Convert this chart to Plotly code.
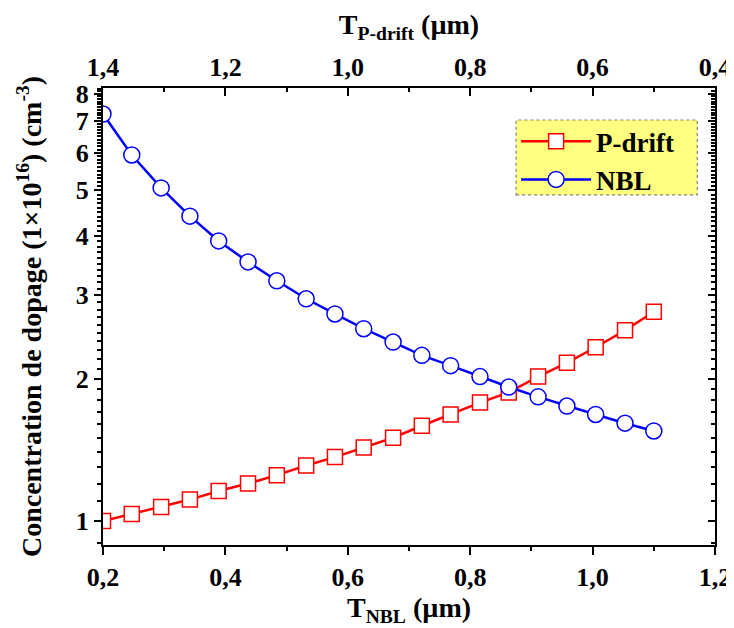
import plotly.graph_objects as go
import numpy as np

# Data
t_nbl = [0.2, 0.247, 0.295, 0.342, 0.389, 0.437, 0.484, 0.532, 0.579, 0.626,
         0.674, 0.721, 0.768, 0.816, 0.863, 0.911, 0.958, 1.005, 1.053, 1.1]
p_drift = [1.00, 1.035, 1.07, 1.11, 1.157, 1.20, 1.25, 1.31, 1.365, 1.43,
           1.50, 1.59, 1.68, 1.78, 1.87, 2.02, 2.16, 2.33, 2.53, 2.77]
nbl = [7.25, 5.94, 5.06, 4.41, 3.91, 3.53, 3.22, 2.95, 2.74, 2.55,
       2.39, 2.24, 2.13, 2.02, 1.92, 1.83, 1.75, 1.68, 1.61, 1.55]

x_ticks = [0.2, 0.4, 0.6, 0.8, 1.0, 1.2]
x_top_ticks = [1.4, 1.2, 1.0, 0.8, 0.6, 0.4]
y_ticks = [1, 2, 3, 4, 5, 6, 7, 8]
y_minor = [round(v, 1) for v in np.arange(0.9, 8.25, 0.1) if abs(v - round(v)) > 1e-6]

FONT = "Liberation Serif"
tickfont = dict(family=FONT, size=26, color="black", weight="bold")
titlefont = dict(family=FONT, size=28, color="black", weight="bold")
ylog_range = [-0.0507, 0.9154]

fig = go.Figure()
fig.add_trace(go.Scatter(
    x=t_nbl, y=p_drift, name="P-drift", mode="lines+markers",
    line=dict(color="#FF0000", width=2.5),
    marker=dict(symbol="square", size=15, color="white",
                line=dict(color="#FF0000", width=1.5)),
))
fig.add_trace(go.Scatter(
    x=t_nbl, y=nbl, name="NBL", mode="lines+markers",
    line=dict(color="#0000FF", width=2.5),
    marker=dict(symbol="circle", size=16, color="white",
                line=dict(color="#0000FF", width=1.5)),
))
# helper trace to activate the top / right axes
fig.add_trace(go.Scatter(
    x=[x_top_ticks[0], x_top_ticks[-1]], y=[1, 1], xaxis="x2", yaxis="y2",
    mode="lines", line=dict(width=0, color="rgba(0,0,0,0)"),
    showlegend=False, hoverinfo="skip",
))

common = dict(showgrid=False, zeroline=False, showline=True, linecolor="black",
              linewidth=2, tickcolor="black", tickwidth=2, tickfont=tickfont,
              automargin=False)

fig.update_layout(
    width=726, height=620,
    margin=dict(l=95, r=19, t=80, b=83),
    paper_bgcolor="white", plot_bgcolor="white",
    separators=",.",
    font=dict(family=FONT, color="black"),
    xaxis=dict(range=[0.2, 1.2], tickmode="array", tickvals=x_ticks, tickformat=".1f",
               ticks="outside", ticklen=8,
               minor=dict(dtick=0.1, tick0=0.2, ticks="outside", ticklen=4, tickwidth=2, tickcolor="black"),
               title=dict(text="T<sub>NBL</sub> (µm)", font=titlefont, standoff=3),
               **common),
    xaxis2=dict(range=[1.4, 0.4], overlaying="x", side="top", tickmode="array",
                tickvals=x_top_ticks, tickformat=".1f", ticks="inside", ticklen=8,
                minor=dict(dtick=0.1, tick0=0.4, ticks="inside", ticklen=4, tickwidth=2, tickcolor="black"),
                title=dict(text="T<sub>P-drift</sub> (µm)", font=titlefont, standoff=10),
                **common),
    yaxis=dict(type="log", range=ylog_range, tickmode="array", tickvals=y_ticks,
               ticktext=[str(v) for v in y_ticks], ticks="outside", ticklen=7,
               minor=dict(tickmode="array", tickvals=y_minor, ticks="outside", ticklen=4,
                          tickwidth=1.5, tickcolor="black"),
               title=dict(text="Concentration de dopage (1×10<sup>16</sup>) (cm<sup>-3</sup>)",
                          font=titlefont, standoff=26),
               **common),
    yaxis2=dict(type="log", range=ylog_range, overlaying="y", side="right",
                tickmode="array", tickvals=y_ticks, showticklabels=False,
                ticks="inside", ticklen=7,
                minor=dict(tickmode="array", tickvals=y_minor, ticks="inside", ticklen=4,
                           tickwidth=1.5, tickcolor="black"),
                **common),
    legend=dict(x=0.675, y=0.936, xanchor="left", yanchor="top",
                bgcolor="rgba(0,0,0,0)", borderwidth=0,
                font=dict(family=FONT, size=27, color="black", weight="bold"),
                itemsizing="trace", tracegroupgap=0, itemwidth=70),
    shapes=[dict(type="rect", xref="paper", yref="paper",
                 x0=0.675, x1=0.971, y0=0.766, y1=0.930,
                 fillcolor="#FFFF80", line=dict(color="#808080", width=1.2, dash="dot"),
                 layer="below")],
    showlegend=True,
)

fig.write_html("out.html")
